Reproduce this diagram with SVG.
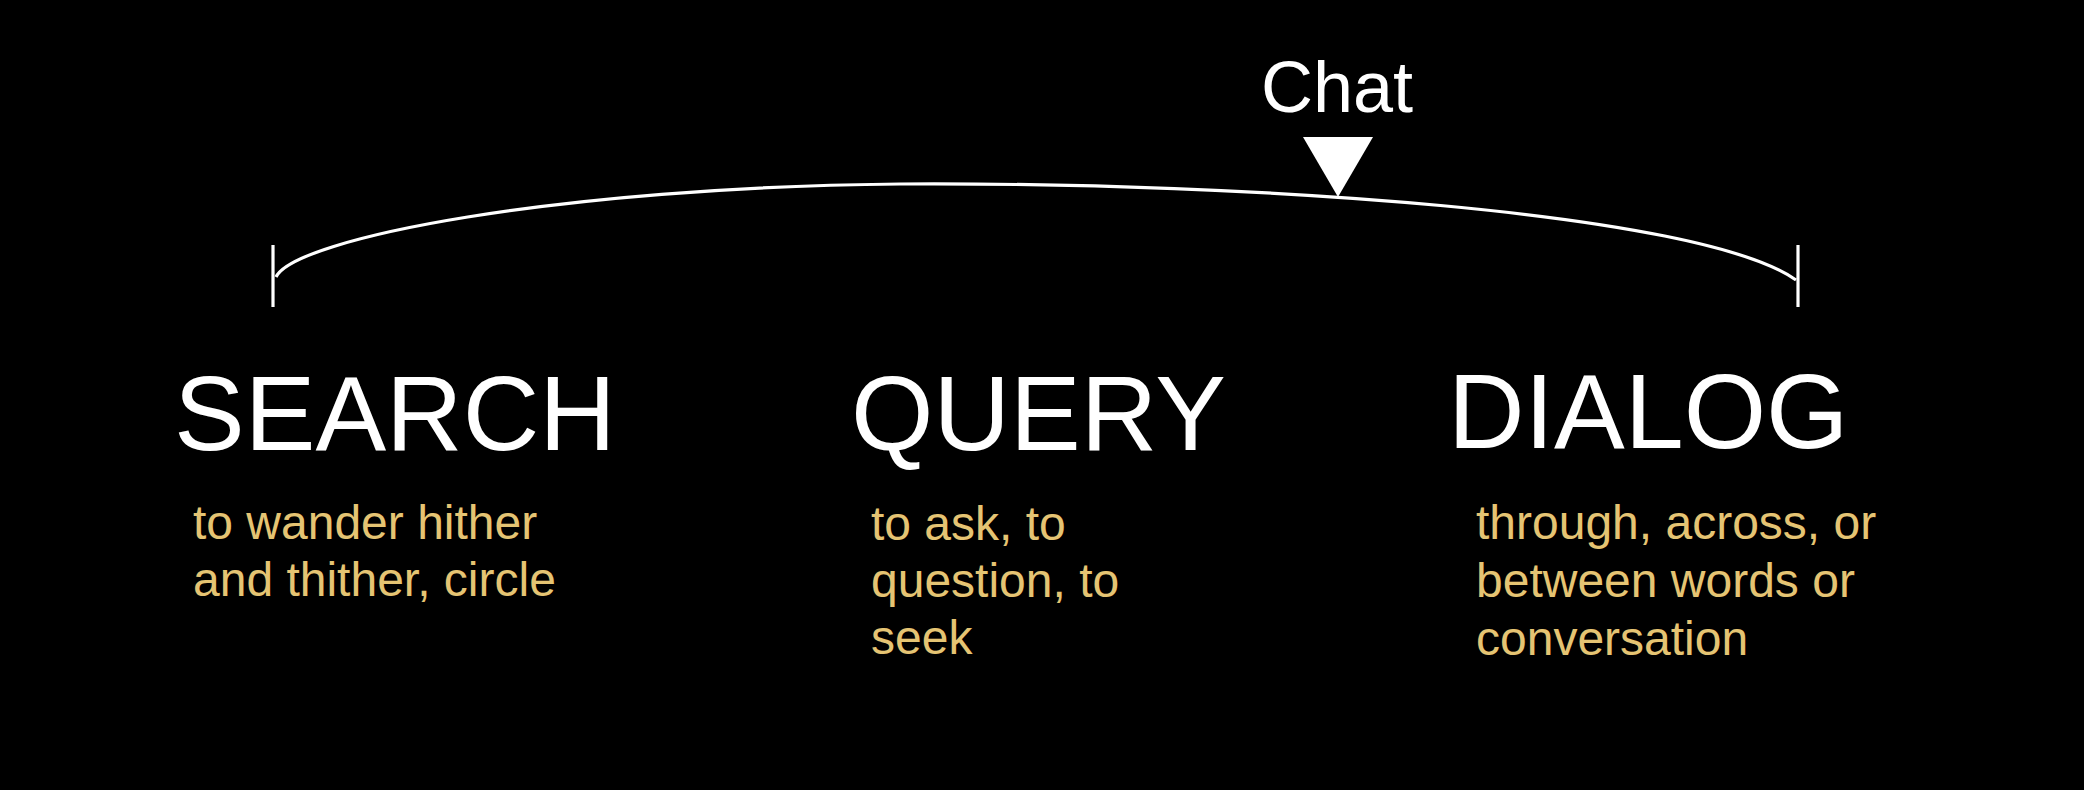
<svg xmlns="http://www.w3.org/2000/svg" width="2084" height="790" viewBox="0 0 2084 790">
<style>
.title{font-family:"Liberation Sans",Arial,sans-serif;font-size:106px;fill:#ffffff}
.chat{font-family:"Liberation Sans",Arial,sans-serif;font-size:72px;fill:#ffffff}
.def{font-family:"Liberation Sans",Arial,sans-serif;font-size:48px;fill:#E5C473}
.line{fill:none;stroke:#ffffff;stroke-width:3.2}
</style>
<rect x="0" y="0" width="2084" height="790" fill="#000000"/>
<g id="connectors">
<line class="line" x1="273" y1="245" x2="273" y2="307"/>
<line class="line" x1="1798" y1="245" x2="1798" y2="307"/>
<path class="line" d="M276,277 C295,238 560,187 900,184 C1250,182 1700,212 1796,280"/>
</g>
<g id="chat">
<text class="chat" x="1261" y="112">Chat</text>
<polygon points="1303,137 1373,137 1338,197" fill="#ffffff"/>
</g>
<g id="search">
<text class="title" x="174" y="450">SEARCH</text>
<text class="def" x="193" y="539">to wander hither</text>
<text class="def" x="193" y="596">and thither, circle</text>
</g>
<g id="query">
<text class="title" x="851" y="450">QUERY</text>
<text class="def" x="871" y="540">to ask, to</text>
<text class="def" x="871" y="597">question, to</text>
<text class="def" x="871" y="654">seek</text>
</g>
<g id="dialog">
<text class="title" x="1448" y="448">DIALOG</text>
<text class="def" x="1476" y="539">through, across, or</text>
<text class="def" x="1476" y="597">between words or</text>
<text class="def" x="1476" y="655">conversation</text>
</g>
</svg>
